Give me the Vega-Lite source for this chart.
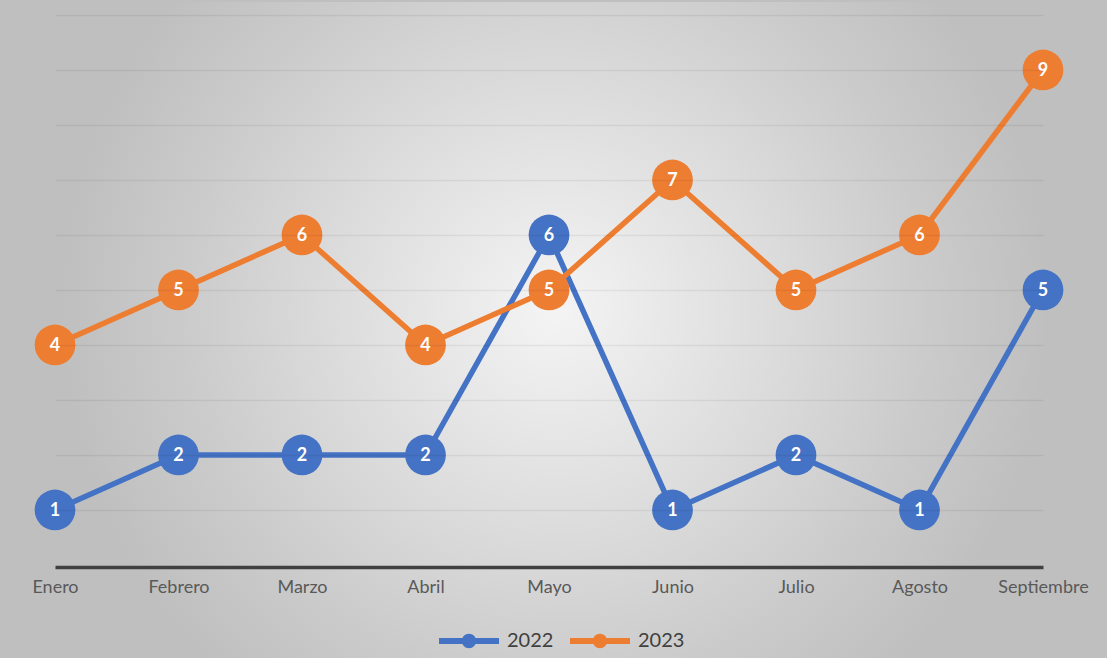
{
  "$schema": "https://vega.github.io/schema/vega-lite/v6.json",
  "width": 988,
  "height": 656,
  "autosize": {"type": "none"},
  "padding": {"left": 55, "top": 2, "right": 64, "bottom": 0},
  "background": "#bfbfbf",
  "config": {
    "font": "Lato",
    "view": {"stroke": null}
  },
  "data": {
    "values": [
      {"mes": "Enero", "anio": "2022", "valor": 1},
      {"mes": "Febrero", "anio": "2022", "valor": 2},
      {"mes": "Marzo", "anio": "2022", "valor": 2},
      {"mes": "Abril", "anio": "2022", "valor": 2},
      {"mes": "Mayo", "anio": "2022", "valor": 6},
      {"mes": "Junio", "anio": "2022", "valor": 1},
      {"mes": "Julio", "anio": "2022", "valor": 2},
      {"mes": "Agosto", "anio": "2022", "valor": 1},
      {"mes": "Septiembre", "anio": "2022", "valor": 5},
      {"mes": "Enero", "anio": "2023", "valor": 4},
      {"mes": "Febrero", "anio": "2023", "valor": 5},
      {"mes": "Marzo", "anio": "2023", "valor": 6},
      {"mes": "Abril", "anio": "2023", "valor": 4},
      {"mes": "Mayo", "anio": "2023", "valor": 5},
      {"mes": "Junio", "anio": "2023", "valor": 7},
      {"mes": "Julio", "anio": "2023", "valor": 5},
      {"mes": "Agosto", "anio": "2023", "valor": 6},
      {"mes": "Septiembre", "anio": "2023", "valor": 9}
    ]
  },
  "layer": [
    {
      "data": {"values": [{"v": 0}]},
      "mark": {
        "type": "rect",
        "color": {
          "gradient": "radial",
          "x1": 0.506, "y1": 0.48, "r1": 0,
          "x2": 0.506, "y2": 0.48, "r2": 0.5,
          "stops": [
            {"offset": 0, "color": "#f4f4f4"},
            {"offset": 0.5, "color": "#d9d9d9"},
            {"offset": 0.75, "color": "#cbcbcb"},
            {"offset": 1, "color": "#bfbfbf"}
          ]
        }
      },
      "encoding": {}
    },
    {
      "mark": {"type": "line", "strokeWidth": 5.5, "strokeCap": "round", "strokeJoin": "round"},
      "encoding": {
        "x": {
          "field": "mes", "type": "nominal",
          "scale": {
            "type": "point",
            "domain": ["Enero", "Febrero", "Marzo", "Abril", "Mayo", "Junio", "Julio", "Agosto", "Septiembre"],
            "padding": 0
          },
          "axis": {
            "title": null, "orient": "bottom", "offset": -91, "zindex": 1,
            "domain": true, "domainColor": "#404040", "domainWidth": 3.5,
            "ticks": false, "tickSize": 0, "grid": false,
            "labelAngle": 0, "labelFont": "Lato", "labelFontSize": 18,
            "labelColor": "#595959", "labelBaseline": "alphabetic", "labelPadding": 25
          }
        },
        "y": {
          "field": "valor", "type": "quantitative",
          "scale": {"domain": [-1.691, 10.236], "nice": false, "zero": false},
          "axis": {
            "title": null, "values": [1, 2, 3, 4, 5, 6, 7, 8, 9, 10], "zindex": 1,
            "grid": true, "gridColor": "#000000", "gridOpacity": 0.06, "gridWidth": 1.3,
            "domain": false, "ticks": false, "labels": false
          }
        },
        "color": {
          "field": "anio", "type": "nominal",
          "scale": {"domain": ["2022", "2023"], "range": ["#4472C4", "#ED7D31"]},
          "legend": {
            "title": null, "orient": "none", "direction": "horizontal",
            "legendX": 384, "legendY": 609,
            "symbolType": "M-1,-0.1H1V0.1H-1Z M0.24,0A0.24,0.24 0 1,1 -0.24,0A0.24,0.24 0 1,1 0.24,0Z",
            "symbolSize": 3600, "symbolStrokeWidth": 0, "symbolOpacity": 1,
            "labelFont": "Lato", "labelFontSize": 20, "labelColor": "#404040",
            "labelOffset": 8, "columnPadding": 16, "padding": 0
          }
        }
      }
    },
    {
      "mark": {"type": "point", "filled": true, "size": 1660, "opacity": 1, "shape": "circle"},
      "encoding": {
        "x": {"field": "mes", "type": "nominal"},
        "y": {"field": "valor", "type": "quantitative"},
        "color": {"field": "anio", "type": "nominal"}
      }
    },
    {
      "mark": {"type": "text", "color": "#ffffff", "font": "Lato", "fontWeight": "bold", "fontSize": 18, "baseline": "middle", "align": "center", "dy": 1},
      "encoding": {
        "x": {"field": "mes", "type": "nominal"},
        "y": {"field": "valor", "type": "quantitative"},
        "text": {"field": "valor", "type": "quantitative"}
      }
    }
  ]
}
